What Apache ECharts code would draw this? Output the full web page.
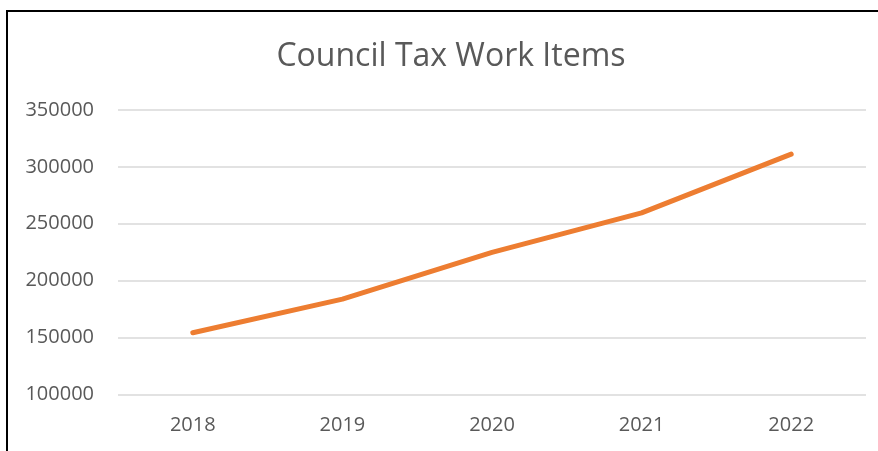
<!DOCTYPE html>
<html>
<head>
<meta charset="utf-8">
<script src="https://cdn.jsdelivr.net/npm/echarts@6/dist/echarts.min.js"></script>
<style>
html,body{margin:0;padding:0;background:#fff;}
#frame{position:absolute;left:6px;top:10px;width:872px;height:441px;border-left:2px solid #000;border-top:2px solid #000;box-sizing:border-box;}
#chart{position:absolute;left:0;top:0;width:878px;height:451px;}
</style>
</head>
<body>
<div id="frame"></div>
<div id="chart"></div>
<script>
const titleText = "Council Tax Work Items";
const categories = ["2018", "2019", "2020", "2021", "2022"];
const workItems = [154100, 183700, 224800, 259600, 311200];
const yTicks = [100000, 150000, 200000, 250000, 300000, 350000];

const chart = echarts.init(document.getElementById('chart'), null, {renderer: 'canvas'});
chart.setOption({
  animation: false,
  backgroundColor: 'transparent',
  title: {
    text: titleText,
    left: 446,
    top: 36,
    textAlign: 'center',
    textStyle: {fontFamily: 'Open Sans', fontSize: 32, fontWeight: 'normal', color: '#595959'}
  },
  grid: {left: 118, right: 12, top: 110, bottom: 56.7, containLabel: false},
  xAxis: {
    type: 'category',
    data: categories,
    boundaryGap: true,
    axisLine: {show: false},
    axisTick: {show: false},
    axisLabel: {margin: 21, fontFamily: 'Open Sans', fontSize: 20, color: '#595959'}
  },
  yAxis: {
    type: 'value',
    min: yTicks[0],
    max: yTicks[yTicks.length - 1],
    interval: 50000,
    axisLine: {show: false},
    axisTick: {show: false},
    axisLabel: {margin: 24, fontFamily: 'Open Sans', fontSize: 20, color: '#595959', formatter: function (v) { return String(v); }},
    splitLine: {lineStyle: {color: '#d9d9d9', width: 1.5}}
  },
  series: [{
    type: 'line',
    data: workItems,
    symbol: 'none',
    lineStyle: {color: '#ED7D31', width: 5, cap: 'round', join: 'round'}
  }]
});
</script>
</body>
</html>
